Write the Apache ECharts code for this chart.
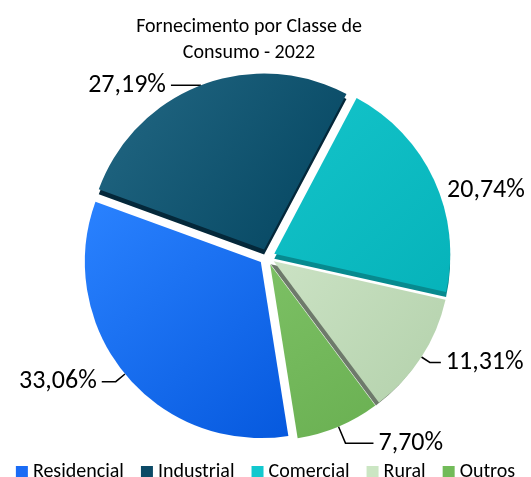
<!DOCTYPE html>
<html>
<head>
<meta charset="utf-8">
<script src="https://cdn.jsdelivr.net/npm/echarts@6/dist/echarts.min.js"></script>
<style>
  html, body { margin: 0; padding: 0; background: #fff; }
  #chart { width: 531px; height: 477px; }
</style>
</head>
<body>
<div id="chart"></div>
<script>
// dados
const categorias = ['Residencial', 'Industrial', 'Comercial', 'Rural', 'Outros']
const percentuais = [33.06, 27.19, 20.74, 11.31, 7.70]

// cores (claro -> escuro, para o efeito 3D)
const coresClaras = ['#2a82ff', '#236884', '#14c4ca', '#cbe2c4', '#7cc064']
const coresEscuras = ['#0659de', '#03445f', '#06b3ba', '#b3d1ab', '#6ab052']
const coresLegenda = ['#1a6cf5', '#0b4a66', '#12c8ce', '#cbe6c3', '#72bb59']
const sombras = ['rgba(0,0,0,0)', '#04283a', '#078a8f', '#6e7a6b', 'rgba(0,0,0,0)']

// linhas de chamada (comprimentos por fatia)
const linhas = [
    { length: 12, length2: 14 },
    { length: 0, length2: 30 },
    { length: 0, length2: 8, show: false },
    { length: 10, length2: 11 },
    { length: 18, length2: 28 }
]

const fonte = 'Carlito, Calibri, Lato, sans-serif'
const fmt = v => v.toFixed(2).replace('.', ',') + '%'

const chartInstance = echarts.init(document.getElementById('chart'))

const dados = categorias.map((nome, i) => ({
    name: nome,
    value: percentuais[i],
    selected: true,
    itemStyle: {
        color: new echarts.graphic.LinearGradient(0, 0, 1, 1, [
            { offset: 0, color: coresClaras[i] },
            { offset: 1, color: coresEscuras[i] }
        ]),
        shadowColor: sombras[i],
        shadowBlur: 0,
        shadowOffsetX: i === 3 ? -3 : 0,
        shadowOffsetY: i === 3 ? 3 : 5
    },
    labelLine: linhas[i]
}))

const chartOption = {
    animation: false,
    title: {
        text: 'Fornecimento por Classe de\nConsumo - 2022',
        left: 244,
        top: 9,
        textAlign: 'center',
        textStyle: {
            fontFamily: fonte,
            fontSize: 20,
            fontWeight: 'normal',
            color: '#000',
            lineHeight: 26
        }
    },
    legend: {
        top: 457,
        left: 'center',
        itemWidth: 12,
        itemHeight: 12,
        itemGap: 17,
        icon: 'rect',
        data: categorias.map((nome, i) => ({ name: nome, itemStyle: { color: coresLegenda[i] } })),
        textStyle: { fontFamily: fonte, fontSize: 20, color: '#000' }
    },
    series: [{
        type: 'pie',
        center: [267, 257],
        radius: 176,
        startAngle: -81,
        clockwise: true,
        selectedMode: 'multiple',
        selectedOffset: 8,
        avoidLabelOverlap: false,
        emphasis: { disabled: true },
        data: dados,
        label: {
            position: 'outside',
            formatter: p => fmt(p.value),
            fontFamily: fonte,
            fontSize: 26,
            color: '#000'
        },
        labelLine: {
            show: true,
            lineStyle: { color: '#000', width: 1.5 }
        },
        labelLayout: p => (p.dataIndex === 2 ? { dy: 11 } : {})
    }]
}
chartInstance.setOption(chartOption)
</script>
</body>
</html>
